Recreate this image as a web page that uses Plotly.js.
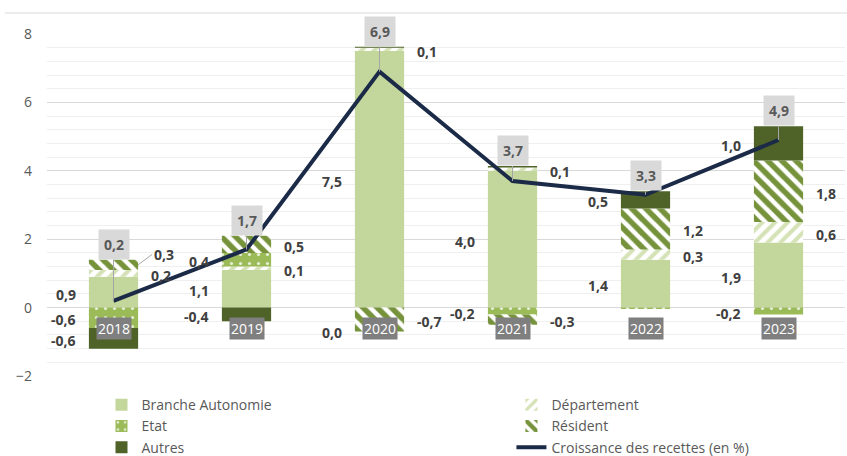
<!DOCTYPE html>
<html><head><meta charset="utf-8">
<script src="https://cdn.plot.ly/plotly-3.0.1.min.js"></script>
<style>html,body{margin:0;padding:0;background:#fff}</style>
</head><body><div id="chart" style="width:847px;height:456px"></div>
<script>
// ---- data ----
const years = ['2018', '2019', '2020', '2021', '2022', '2023'];
const branche = [0.9, 1.1, 7.5, 4.0, 1.4, 1.9];
const departement = [0.2, 0.1, 0.1, 0.1, 0.3, 0.6];
const etat = [-0.6, 0.4, 0.0, -0.2, -0.04, -0.2];
const resident = [0.3, 0.5, -0.7, -0.3, 1.2, 1.8];
const autres = [-0.6, -0.4, 0.03, 0.04, 0.5, 1.0];
const croissance = [0.2, 1.7, 6.9, 3.7, 3.3, 4.9];

// ---- styles ----
const BAR_W = 0.37;
const PX_PER_X = 798 / 6;
const PX_PER_Y = 342 / 10;
const fmt = v => v.toFixed(1).replace('.', ',').replace('-0,0', '0,0');

const series = [
  {name: 'Branche Autonomie', values: branche, side: 'left', legend: 'legend',
   marker: {color: '#c3d69b'}},
  {name: 'Département', values: departement, side: 'right', legend: 'legend2',
   marker: {color: '#ffffff', pattern: {shape: '/', fgcolor: '#d4e2b6', bgcolor: '#ffffff', size: 9, solidity: 0.45}}},
  {name: 'Etat', values: etat, side: 'left', legend: 'legend',
   marker: {color: '#9bbb59', pattern: {shape: '.', fgcolor: '#e6efd6', bgcolor: '#9bbb59', size: 9, solidity: 0.1}}},
  {name: 'Résident', values: resident, side: 'right', legend: 'legend2',
   marker: {color: '#ffffff', pattern: {shape: '\\', fgcolor: '#76933c', bgcolor: '#ffffff', size: 10, solidity: 0.55}}},
  {name: 'Autres', values: autres, side: 'left', legend: 'legend',
   marker: {color: '#4f6228'}}
];

const traces = series.map(s => ({
  type: 'bar', name: s.name, x: years, y: s.values, width: BAR_W, legend: s.legend,
  marker: Object.assign({line: {width: 0}}, s.marker),
  hoverinfo: 'skip'
}));
traces.push({
  type: 'scatter', mode: 'lines', name: 'Croissance des recettes (en %)', legend: 'legend2',
  x: years, y: croissance, line: {color: '#1b2a47', width: 4}, hoverinfo: 'skip'
});

// ---- labels ----
const annotations = [];
const posBase = years.map(() => 0), negBase = years.map(() => 0);
const groups = {};
series.forEach(s => {
  s.values.forEach((v, i) => {
    let lo, hi;
    if (v >= 0) { lo = posBase[i]; hi = lo + v; posBase[i] = hi; }
    else { hi = negBase[i]; lo = hi + v; negBase[i] = lo; }
    if (v !== 0 && Math.abs(v) < 0.05) return;
    const c = v === 0 ? 0 : (lo + hi) / 2;
    const key = i + s.side;
    (groups[key] = groups[key] || []).push({i, side: s.side, y: c, y0: c, text: fmt(v), zero: v === 0});
  });
});
const labelFont = {family: 'Open Sans, sans-serif', size: 14, color: '#404040', weight: 'bold'};
Object.values(groups).forEach(g => {
  g.sort((a, b) => a.y - b.y);
  for (let k = 1; k < g.length; k++) {
    const minGap = 19 / PX_PER_Y;
    if (!g[k - 1].zero && g[k].y - g[k - 1].y < minGap) g[k].y = g[k - 1].y + minGap;
  }
  g.forEach(l => {
    const sign = l.side === 'left' ? -1 : 1;
    const moved = Math.abs(l.y - l.y0) * PX_PER_Y > 3;
    if (moved) {
      annotations.push({x: l.i + sign * BAR_W / 2, y: l.y0, xref: 'x', yref: 'y', text: '<b>' + l.text + '</b>',
        showarrow: true, arrowhead: 0, arrowwidth: 1, arrowcolor: '#a6a6a6',
        ax: sign * 14, ay: -(l.y - l.y0) * PX_PER_Y, xanchor: l.side === 'left' ? 'right' : 'left', font: labelFont});
    } else {
      annotations.push({x: l.i, y: l.y, xref: 'x', yref: 'y', text: '<b>' + l.text + '</b>', showarrow: false,
        xshift: sign * (BAR_W / 2 * PX_PER_X + 11), yshift: l.zero ? -25 : -2,
        xanchor: l.side === 'left' ? 'right' : 'left', font: labelFont});
    }
  });
});
// totals and category boxes
years.forEach((yr, i) => {
  annotations.push({x: i, y: croissance[i], xref: 'x', yref: 'y', axref: 'x', ayref: 'y',
    ax: i, ay: posBase[i], yanchor: 'bottom', yshift: 0,
    text: '<b>' + fmt(croissance[i]) + '</b>', showarrow: true, arrowhead: 0, arrowwidth: 1, arrowcolor: '#a6a6a6',
    bgcolor: '#d9d9d9', borderpad: 5, font: {family: 'Open Sans, sans-serif', size: 14, color: '#595959', weight: 'bold'}});
  annotations.push({x: i, y: 0, xref: 'x', yref: 'y', text: yr, showarrow: false, yshift: -21,
    bgcolor: '#7f7f7f', borderpad: 1, font: {family: 'Open Sans, sans-serif', size: 14, color: '#ffffff'}});
});
annotations.push({x: 1, y: 1, xref: 'paper', yref: 'paper', xanchor: 'right', yanchor: 'bottom', yshift: 29, xshift: -14,
  text: 'En %', showarrow: false, font: {family: 'Open Sans, sans-serif', size: 15, color: '#44546a'}});

const legendBase = {orientation: 'v', xanchor: 'left', yref: 'container', y: 0.1465, yanchor: 'top', traceorder: 'normal',
  tracegroupgap: 0, font: {size: 14, color: '#595959'}, bgcolor: 'rgba(0,0,0,0)', borderwidth: 0};

const layout = {
  width: 847, height: 456,
  margin: {l: 47, r: 2, t: 34, b: 80},
  paper_bgcolor: '#ffffff', plot_bgcolor: '#ffffff',
  barmode: 'relative', separators: ', ',
  font: {family: 'Open Sans, sans-serif', color: '#595959'},
  xaxis: {type: 'category', range: [-0.5, 5.5], showticklabels: false, showgrid: false, zeroline: false, fixedrange: true},
  yaxis: {range: [-2, 8], tick0: 0, dtick: 2, tickmode: 'linear', showgrid: true, gridcolor: '#d9d9d9', gridwidth: 1,
    zeroline: false, ticks: '', ticklabelstandoff: 14, tickfont: {size: 14, color: '#595959'},
    minor: {dtick: 0.4, tick0: 0, showgrid: true, gridcolor: '#efefef', gridwidth: 1, ticks: ''}},
  showlegend: true,
  legend: Object.assign({}, legendBase, {x: 0.0683}),
  legend2: Object.assign({}, legendBase, {x: 0.582}),
  annotations: annotations,
  shapes: [{type: 'line', xref: 'paper', yref: 'paper', x0: -0.053, x1: 1.01, y0: 1.0614, y1: 1.0614,
    line: {color: '#d9d9d9', width: 1}}]
};
Plotly.newPlot('chart', traces, layout, {staticPlot: true, displayModeBar: false});
</script>
</body></html>
